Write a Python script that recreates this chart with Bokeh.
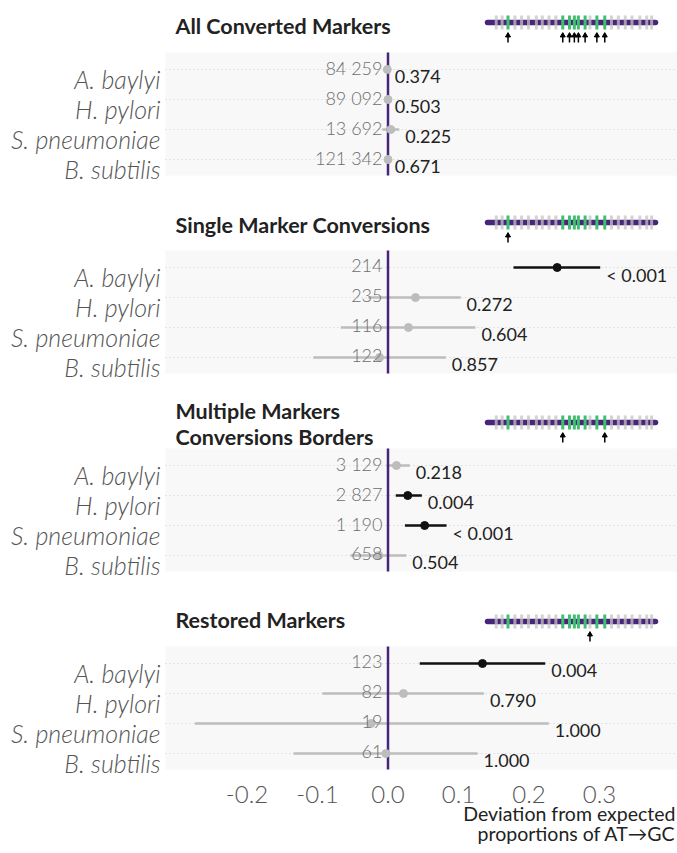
from bokeh.plotting import figure
from bokeh.models import Range1d, ColumnDataSource
from bokeh.core.properties import value
from bokeh.embed import file_html
from bokeh.resources import INLINE

# ---------------- data ----------------
species = ["A. baylyi", "H. pylori", "S. pneumoniae", "B. subtilis"]
panel_titles = [["All Converted Markers"],
                ["Single Marker Conversions"],
                ["Multiple Markers", "Conversions Borders"],
                ["Restored Markers"]]

estimate = [
    [-0.001, 0.000, 0.004, 0.000],
    [0.240, 0.039, 0.029, -0.012],
    [0.012, 0.028, 0.052, -0.013],
    [0.134, 0.022, -0.024, -0.003],
]
ci_low = [
    [-0.003, -0.001, -0.008, -0.001],
    [0.178, -0.028, -0.067, -0.106],
    [-0.002, 0.011, 0.024, -0.053],
    [0.045, -0.093, -0.274, -0.134],
]
ci_high = [
    [0.001, 0.001, 0.016, 0.001],
    [0.301, 0.103, 0.124, 0.082],
    [0.031, 0.048, 0.083, 0.026],
    [0.223, 0.136, 0.228, 0.127],
]
n_obs = [
    ["84 259", "89 092", "13 692", "121 342"],
    ["214", "235", "116", "122"],
    ["3 129", "2 827", "1 190", "658"],
    ["123", "82", "19", "61"],
]
p_values = [
    ["0.374", "0.503", "0.225", "0.671"],
    ["< 0.001", "0.272", "0.604", "0.857"],
    ["0.218", "0.004", "< 0.001", "0.504"],
    ["0.004", "0.790", "1.000", "1.000"],
]
x_ticks = [-0.2, -0.1, 0.0, 0.1, 0.2, 0.3]
x_tick_labels = ["-0.2", "-0.1", "0.0", "0.1", "0.2", "0.3"]
x_title = ["Deviation from expected", "proportions of AT\u2192GC"]

# marker positions along the construct (% of length)
markers_unconverted = [5.2, 8.7, 16.3, 20.3, 24.4, 29.1, 32.6, 36.6, 40.7, 61.0,
                       73.8, 77.9, 82.0, 86.0, 90.7, 94.8, 97.7]
markers_converted = [12.2, 44.8, 48.8, 51.7, 54.1, 58.1, 65.1, 69.8]
highlighted = [
    [12.2, 44.8, 48.8, 51.7, 54.1, 58.1, 65.1, 69.8],
    [12.2],
    [44.8, 69.8],
    [61.0],
]

# ---------------- layout / style ----------------
W, H = 677, 845
ZERO_PX = 387.5
PX_PER_UNIT = 705.0
X_START = -ZERO_PX / PX_PER_UNIT
X_END = (W - ZERO_PX) / PX_PER_UNIT


def px_x(px):
    return (px - ZERO_PX) / PX_PER_UNIT


PANEL_LEFT = px_x(165)
row0 = [69, 267, 465, 663]
ROW_STEP = 30
header_y = [22, 222, 422, 621]
title_base = [[25.5], [224], [410, 436], [619]]

PURPLE = "#47267a"
GREEN = "#3fbf6f"
GREY_CI = "#bdbdbd"
BLACK = "#111111"
FONT = value("Lato")
LIGHT = value("Lato Light")

# schematic range: 0 -> px 487, 100 -> px 655
S_SCALE = (655 - 487) / 100.0
S0 = -487 / S_SCALE
S1 = 100 + (W - 655) / S_SCALE

p = figure(width=W, height=H, x_range=Range1d(X_START, X_END),
           y_range=Range1d(H, 0), output_backend="svg",
           toolbar_location=None, x_axis_location=None, y_axis_location=None,
           min_border=0)
p.extra_x_ranges = {"schem": Range1d(S0, S1)}
p.outline_line_color = None
p.background_fill_color = "white"
p.border_fill_color = "white"
p.grid.visible = False

# panel backgrounds
bg = dict(left=[], right=[], top=[], bottom=[])
for k in range(4):
    bg["left"].append(PANEL_LEFT)
    bg["right"].append(X_END)
    bg["top"].append(row0[k] - 17)
    bg["bottom"].append(row0[k] + 3 * ROW_STEP + 16)
p.quad(source=ColumnDataSource(bg), left="left", right="right", top="top",
       bottom="bottom", fill_color="#f8f8f8", line_color=None)

rows = dict(y=[], lo=[], hi=[], est=[], col=[], n=[], pv=[], sp=[])
for k in range(4):
    for i in range(4):
        y = row0[k] + i * ROW_STEP
        pnum = float(p_values[k][i].replace("<", "").strip())
        rows["y"].append(y)
        rows["lo"].append(ci_low[k][i])
        rows["hi"].append(ci_high[k][i])
        rows["est"].append(estimate[k][i])
        rows["col"].append(BLACK if pnum < 0.05 else GREY_CI)
        rows["n"].append(n_obs[k][i])
        rows["pv"].append(p_values[k][i])
        rows["sp"].append(species[i])
nrow = len(rows["y"])
rows["left"] = [PANEL_LEFT] * nrow
rows["right"] = [X_END] * nrow
rows["zero"] = [0.0] * nrow
rows["y_sp"] = [y + 9 for y in rows["y"]]
rows["y_n"] = [y - 2 for y in rows["y"]]
rows["y_p"] = [y + 7 for y in rows["y"]]
rows["lab_x"] = [px_x(160)] * nrow
src = ColumnDataSource(rows)

# dotted row guides
p.segment(x0="left", x1="right", y0="y", y1="y", source=src,
          line_color="#cfcfcf", line_width=1, line_dash="1 3")
# confidence intervals
p.segment(x0="lo", x1="hi", y0="y", y1="y", source=src,
          line_color="col", line_width=2.5)
# zero lines
zl = dict(x=[0.0] * 4, y0=[row0[k] - 17 for k in range(4)],
          y1=[row0[k] + 3 * ROW_STEP + 16 for k in range(4)])
p.segment(x0="x", x1="x", y0="y0", y1="y1", source=ColumnDataSource(zl),
          line_color=PURPLE, line_width=2.5)
# estimates
p.scatter(x="est", y="y", source=src, size=8, fill_color="col",
          line_color="col", marker="circle")

# texts
p.text(x="lab_x", y="y_sp", text="sp", source=src, text_font=LIGHT,
       text_font_size="25px", text_font_style="italic", text_color="#555555",
       text_align="right", text_baseline="alphabetic")
p.text(x="zero", y="y_n", text="n", source=src, text_font=LIGHT,
       text_font_size="18px", text_color="#6e6e6e", text_align="right",
       text_baseline="alphabetic", x_offset=-5.5)
p.text(x="hi", y="y_p", text="pv", source=src, text_font=FONT,
       text_font_size="18px", text_color="#222222", text_align="left",
       text_baseline="alphabetic", x_offset=6)

# panel titles
tt = dict(x=[], y=[], t=[])
for k in range(4):
    for j, line in enumerate(panel_titles[k]):
        tt["x"].append(px_x(175))
        tt["y"].append(title_base[k][j])
        tt["t"].append(line)
p.text(x="x", y="y", text="t", source=ColumnDataSource(tt), text_font=FONT,
       text_font_size="21.5px", text_font_style="bold", text_color="#222222",
       text_align="left", text_baseline="alphabetic")

# construct schematics
bar = dict(x0=[0] * 4, x1=[100] * 4, y=header_y)
p.segment(x0="x0", x1="x1", y0="y", y1="y", source=ColumnDataSource(bar),
          line_color=PURPLE, line_width=5.5, line_cap="round",
          x_range_name="schem")
for positions, colr, alpha in ((markers_unconverted, "#c4c4c4", 0.75),
                               (markers_converted, GREEN, 1.0)):
    d = dict(x=[], y0=[], y1=[])
    for k in range(4):
        for m in positions:
            d["x"].append(m)
            d["y0"].append(header_y[k] - 7)
            d["y1"].append(header_y[k] + 7)
    p.segment(x0="x", x1="x", y0="y0", y1="y1", source=ColumnDataSource(d),
              line_color=colr, line_alpha=alpha, line_width=3,
              x_range_name="schem")
ar = dict(x=[], y0=[], y1=[])
for k in range(4):
    for m in highlighted[k]:
        ar["x"].append(m)
        ar["y0"].append(header_y[k] + 13)
        ar["y1"].append(header_y[k] + 20)
asrc = ColumnDataSource(ar)
p.segment(x0="x", x1="x", y0="y0", y1="y1", source=asrc, line_color="black",
          line_width=1.5, x_range_name="schem")
p.scatter(x="x", y="y0", source=asrc, marker="triangle", size=5,
          fill_color="black", line_color="black", x_range_name="schem")

# x axis tick labels (through the x scale)
tk = dict(x=x_ticks, t=x_tick_labels, y=[794] * len(x_ticks))
p.text(x="x", y="y", text="t", source=ColumnDataSource(tk), text_font=LIGHT,
       text_font_size="24px", text_color="#555555", text_align="center",
       text_baseline="alphabetic")

# axis title
ax_t = dict(x=[px_x(675)] * 2, y=[813, 833], t=x_title)
p.text(x="x", y="y", text="t", source=ColumnDataSource(ax_t), text_font=FONT,
       text_font_size="19.5px", text_color="#222222", text_align="right",
       text_baseline="alphabetic")

open("out.html", "w").write(file_html(p, INLINE))
